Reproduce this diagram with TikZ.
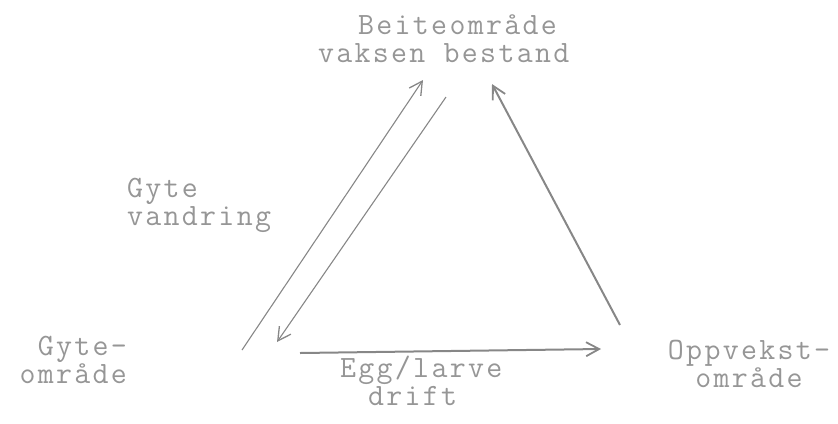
\documentclass[tikz,border=0pt]{standalone}
\usepackage{fontspec}
\newfontfamily\typew{Latin Modern Mono}[LetterSpace=7.4]
\usetikzlibrary{arrows.meta}
\definecolor{ink}{RGB}{135,135,135}
\definecolor{txt}{RGB}{150,150,150}
\tikzset{
  lbl/.style={inner sep=0pt, text=txt, font=\typew\fontsize{31bp}{28bp}\selectfont},
  flow/.style={draw=ink, line width=1.1bp, -{Straight Barb[length=13bp,width=14bp,line width=1.3bp]}},
  flowthick/.style={draw=ink, line width=2bp, -{Straight Barb[length=13bp,width=14bp,line width=1.8bp]}}
}
\begin{document}
\begin{tikzpicture}[x=1bp,y=-1bp]
\useasboundingbox (0,0) rectangle (838,423);
% labels (base anchor = baseline of last line)
\node[lbl, align=left, anchor=base west] (beite) at (318,62) {\hspace*{40bp}Beiteområde\\vaksen bestand};
\node[lbl, align=left, anchor=base west] (vandr) at (127,225) {Gyte\\vandring};
\node[lbl, align=right, anchor=base east] (gyte) at (127,383) {Gyte-\\område};
\node[lbl, align=center, anchor=base] (oppv) at (749,387) {Oppvekst-\\område};
\node[lbl, align=left, anchor=base west] (egg) at (340,405) {Egg/larve\\\hspace*{28bp}drift};
% connector end points
\coordinate (a1s) at (242,350);
\coordinate (a1e) at (423,80);
\coordinate (a2s) at (446,97);
\coordinate (a2e) at (277,342);
\coordinate (a3s) at (620,325);
\coordinate (a3e) at (492,84);
\coordinate (a4s) at (300,353);
\coordinate (a4e) at (601,349);
\draw[flow] (a1s) -- (a1e);
\draw[flow] (a2s) -- (a2e);
\draw[flowthick] (a3s) -- (a3e);
\draw[flowthick] (a4s) -- (a4e);
\end{tikzpicture}
\end{document}
